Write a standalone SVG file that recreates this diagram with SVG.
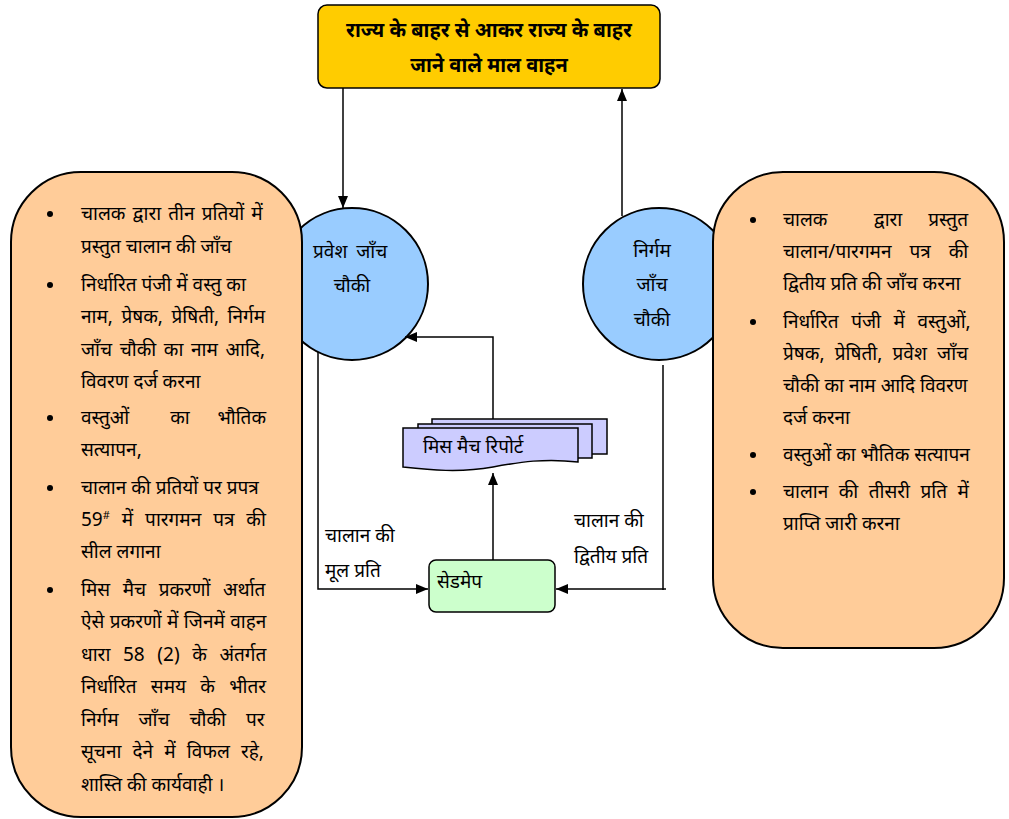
<svg xmlns="http://www.w3.org/2000/svg" width="1009" height="819" viewBox="0 0 1009 819">
<defs>
<marker id="ah" viewBox="0 0 12 10" refX="12" refY="5" markerWidth="12" markerHeight="10" markerUnits="userSpaceOnUse" orient="auto">
<path d="M0,0 L12,5 L0,10 Z" fill="#000"/>
</marker>
<style>
text{font-family:"Noto Sans","Noto Sans Devanagari","DejaVu Sans",sans-serif;font-size:19px;fill:#000}
.t{font-weight:bold;font-size:20px}
.box{fill:#FFCC99;stroke:#000;stroke-width:2}
.circ{fill:#99CCFF;stroke:#000;stroke-width:2}
.conn{fill:none;stroke:#000;stroke-width:1.5}
.doc{fill:#CCCCFF;stroke:#000;stroke-width:1.5}
</style>
</defs>
<rect width="1009" height="819" fill="#fff"/>

<g id="top">
<rect x="318" y="5" width="342" height="83" rx="9" fill="#FFCC00" stroke="#000" stroke-width="1.5"/>
<text class="t" x="489" y="37" text-anchor="middle">राज्य के बाहर से आकर राज्य के बाहर</text>
<text class="t" x="489" y="72" text-anchor="middle">जाने वाले माल वाहन</text>
</g>

<g id="entry">
<circle class="circ" cx="352" cy="284" r="76"/>
<text x="313" y="258" style="word-spacing:4px">प्रवेश जाँच</text>
<text x="352" y="292" text-anchor="middle">चौकी</text>
</g>

<g id="exit">
<circle class="circ" cx="659" cy="284" r="76"/>
<text x="652" y="257" text-anchor="middle">निर्गम</text>
<text x="652" y="291" text-anchor="middle">जाँच</text>
<text x="652" y="326" text-anchor="middle">चौकी</text>
</g>

<g id="left-box">
<rect class="box" x="11" y="172" width="291" height="645" rx="70"/>
<g>
<circle cx="50" cy="214" r="3"/><circle cx="50" cy="285" r="3"/><circle cx="50" cy="418" r="3"/><circle cx="50" cy="488" r="3"/><circle cx="50" cy="590" r="3"/>
</g>
<text x="81" y="220" style="word-spacing:2.2px">चालक द्वारा तीन प्रतियों में</text>
<text x="81" y="253">प्रस्तुत चालान की जाँच</text>
<text x="81" y="291">निर्धारित पंजी में वस्तु का</text>
<text x="81" y="323" style="word-spacing:3.6px">नाम, प्रेषक, प्रेषिती, निर्गम</text>
<text x="81" y="356" style="word-spacing:2.7px">जाँच चौकी का नाम आदि,</text>
<text x="81" y="388">विवरण दर्ज करना</text>
<text x="81" y="424">वस्तुओं</text>
<text x="180" y="424" text-anchor="middle">का</text>
<text x="266" y="424" text-anchor="end">भौतिक</text>
<text x="81" y="456">सत्यापन,</text>
<text x="81" y="494">चालान की प्रतियों पर प्रपत्र</text>
<text x="81" y="526" style="word-spacing:7px">59<tspan font-size="11" dy="-7">#</tspan><tspan dy="7"> में पारगमन पत्र की</tspan></text>
<text x="81" y="558">सील लगाना</text>
<text x="81" y="596" style="word-spacing:7.6px">मिस मैच प्रकरणों अर्थात</text>
<text x="81" y="628" style="word-spacing:0.5px">ऐसे प्रकरणों में जिनमें वाहन</text>
<text x="81" y="661" style="word-spacing:7.7px">धारा 58 (2) के अंतर्गत</text>
<text x="81" y="693" style="word-spacing:9.3px">निर्धारित समय के भीतर</text>
<text x="81" y="726" style="word-spacing:15px">निर्गम जाँच चौकी पर</text>
<text x="81" y="758" style="word-spacing:6.2px">सूचना देने में विफल रहे,</text>
<text x="81" y="791">शास्ति की कार्यवाही ।</text>
</g>

<g id="right-box">
<rect class="box" x="713" y="172" width="291" height="476" rx="70"/>
<g>
<circle cx="753" cy="220" r="3"/><circle cx="753" cy="322" r="3"/><circle cx="753" cy="455" r="3"/><circle cx="753" cy="492" r="3"/>
</g>
<text x="783" y="226">चालक</text>
<text x="888" y="226" text-anchor="middle">द्वारा</text>
<text x="968" y="226" text-anchor="end">प्रस्तुत</text>
<text x="783" y="258" style="word-spacing:13px">चालान/पारगमन पत्र की</text>
<text x="783" y="290">द्वितीय प्रति की जाँच करना</text>
<text x="783" y="328" style="word-spacing:7.6px">निर्धारित पंजी में वस्तुओं,</text>
<text x="783" y="360" style="word-spacing:5.3px">प्रेषक, प्रेषिती, प्रवेश जाँच</text>
<text x="783" y="392">चौकी का नाम आदि विवरण</text>
<text x="783" y="424">दर्ज करना</text>
<text x="783" y="461">वस्तुओं का भौतिक सत्यापन</text>
<text x="783" y="498" style="word-spacing:5.5px">चालान की तीसरी प्रति में</text>
<text x="783" y="530">प्राप्ति जारी करना</text>
</g>

<g id="mismatch">
<rect class="doc" x="432" y="419" width="175" height="35"/>
<rect class="doc" x="418" y="424" width="174" height="34"/>
<path class="doc" d="M403,428 L578,428 L578,462 C545,458 520,462 493,467 C460,473 430,470 403,467 Z"/>
<text x="423" y="453">मिस मैच रिपोर्ट</text>
</g>

<g id="sedmap">
<rect x="429" y="560" width="126" height="52" rx="7" fill="#CCFFCC" stroke="#000" stroke-width="1.5"/>
<text x="437" y="588">सेडमेप</text>
</g>

<g id="labels">
<text x="325" y="542">चालान की</text>
<text x="325" y="577">मूल प्रति</text>
<text x="574" y="527">चालान की</text>
<text x="574" y="563">द्वितीय प्रति</text>
</g>

<g id="connectors">
<line class="conn" x1="343" y1="88" x2="343" y2="208" marker-end="url(#ah)"/>
<line class="conn" x1="622" y1="216" x2="622" y2="89" marker-end="url(#ah)"/>
<polyline class="conn" points="318,352 318,589 428,589" marker-end="url(#ah)"/>
<line class="conn" x1="663" y1="365" x2="663" y2="590"/>
<line class="conn" x1="666" y1="589" x2="556" y2="589" marker-end="url(#ah)"/>
<line class="conn" x1="493" y1="560" x2="493" y2="473" marker-end="url(#ah)"/>
<polyline class="conn" points="493,419 493,337 405,337" marker-end="url(#ah)"/>
</g>
</svg>
